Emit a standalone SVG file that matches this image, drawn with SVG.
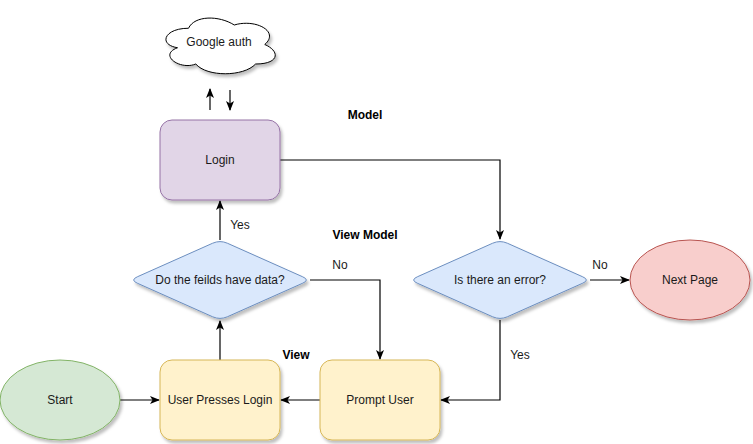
<svg xmlns="http://www.w3.org/2000/svg" width="753" height="444" viewBox="0 0 753 444">
<style>
text{font-family:"Liberation Sans",Arial,sans-serif;font-size:12px;fill:#1a1a1a;text-anchor:middle;dominant-baseline:central}
.b{font-weight:bold;fill:#000}
.e{fill:none;stroke:#000;stroke-width:1.2}
.sh{filter:url(#sh)}
</style>
<defs>
<filter id="sh" x="-20%" y="-20%" width="140%" height="140%"><feDropShadow dx="2" dy="3" stdDeviation="1.5" flood-color="#000" flood-opacity="0.25"/></filter>
<marker id="a" markerUnits="userSpaceOnUse" markerWidth="10" markerHeight="10" viewBox="0 0 10 10" refX="9" refY="5" orient="auto"><path d="M0,1 L10,5 L0,9 L2.5,5 Z" fill="#000"/></marker>
</defs>
<rect width="753" height="444" fill="#fff"/>
<g id="edges">
<path class="e" d="M280,160 H500 V239" marker-end="url(#a)"/>
<path class="e" d="M220,240 V201" marker-end="url(#a)"/>
<path class="e" d="M310,280 H380 V359" marker-end="url(#a)"/>
<path class="e" d="M590,280 H629" marker-end="url(#a)"/>
<path class="e" d="M500,320 V400 H441" marker-end="url(#a)"/>
<path class="e" d="M320,400 H281" marker-end="url(#a)"/>
<path class="e" d="M120,400 H159" marker-end="url(#a)"/>
<path class="e" d="M220,360 V321" marker-end="url(#a)"/>
<path class="e" d="M210,110 V89" marker-end="url(#a)"/>
<path class="e" d="M230,90 V110" marker-end="url(#a)"/>
<text x="240" y="225">Yes</text>
<text x="340" y="265">No</text>
<text x="600" y="265">No</text>
<text x="520" y="355">Yes</text>
</g>
<g id="cloud">
<path class="sh" d="M188.5,28.25 C164.1,28.25 158,44.5 177.5,47.75 C158,54.9 180,70.5 195.8,64 C206.8,77 243.4,77 255.6,64 C280,64 280,51 264.75,44.5 C280,31.5 255.6,18.5 234.25,25 C219,15.25 194.6,15.25 188.5,28.25 Z" fill="#fff" stroke="#000" stroke-width="1"/>
<text x="219" y="42">Google auth</text>
</g>
<g id="login">
<rect class="sh" x="160" y="120" width="120" height="80" rx="12" fill="#e1d5e7" stroke="#9673a6"/>
<text x="220" y="160">Login</text>
</g>
<g id="fields">
<path class="sh" d="M137.3,276.8 L212.7,243.2 Q220,240 227.3,243.2 L302.7,276.8 Q310,280 302.7,283.2 L227.3,316.8 Q220,320 212.7,316.8 L137.3,283.2 Q130,280 137.3,276.8 Z" fill="#dae8fc" stroke="#6c8ebf"/>
<text x="220" y="280">Do the feilds have data?</text>
</g>
<g id="error">
<path class="sh" d="M417.3,276.8 L492.7,243.2 Q500,240 507.3,243.2 L582.7,276.8 Q590,280 582.7,283.2 L507.3,316.8 Q500,320 492.7,316.8 L417.3,283.2 Q410,280 417.3,276.8 Z" fill="#dae8fc" stroke="#6c8ebf"/>
<text x="500" y="280">Is there an error?</text>
</g>
<g id="next">
<ellipse class="sh" cx="690" cy="280" rx="60" ry="40" fill="#f8cecc" stroke="#b85450"/>
<text x="690" y="280">Next Page</text>
</g>
<g id="start">
<ellipse class="sh" cx="60" cy="400" rx="60" ry="40" fill="#d5e8d4" stroke="#82b366"/>
<text x="60" y="400">Start</text>
</g>
<g id="press">
<rect class="sh" x="160" y="360" width="120" height="80" rx="12" fill="#fff2cc" stroke="#d6b656"/>
<text x="220" y="400">User Presses Login</text>
</g>
<g id="prompt">
<rect class="sh" x="320" y="360" width="120" height="80" rx="12" fill="#fff2cc" stroke="#d6b656"/>
<text x="380" y="400">Prompt User</text>
</g>
<g id="labels">
<text class="b" x="365" y="115">Model</text>
<text class="b" x="365" y="235">View Model</text>
<text class="b" x="296" y="355">View</text>
</g>
</svg>
